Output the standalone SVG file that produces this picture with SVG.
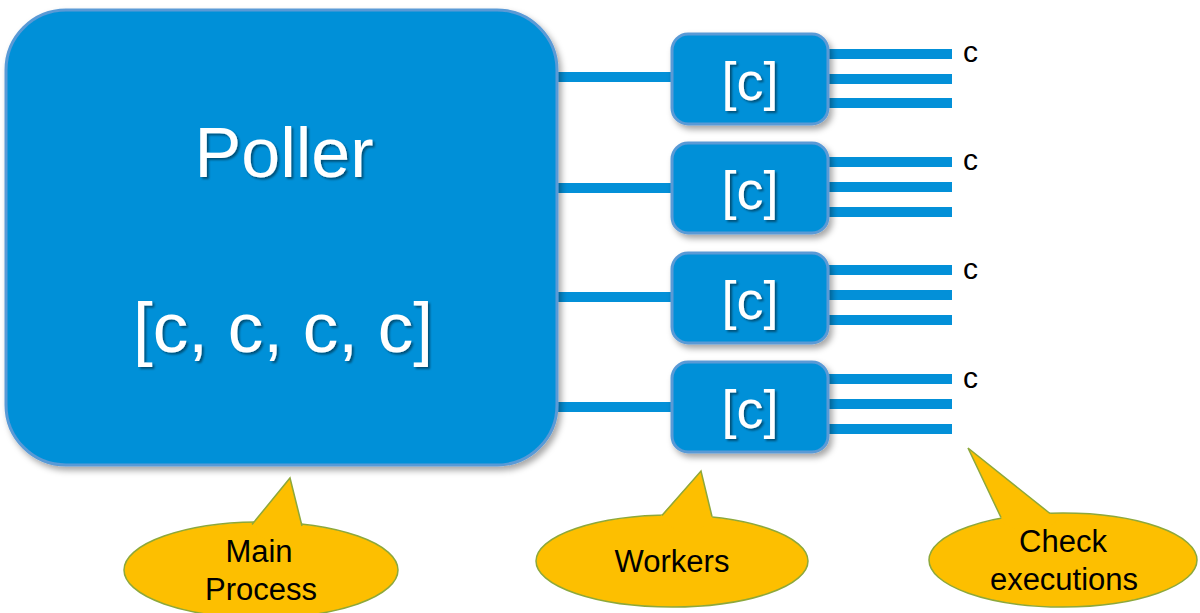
<svg xmlns="http://www.w3.org/2000/svg" width="1200" height="613" viewBox="0 0 1200 613">
<defs>
<filter id="sh" x="-10%" y="-10%" width="125%" height="130%"><feDropShadow dx="3" dy="4" stdDeviation="3" flood-color="#000" flood-opacity="0.35"/></filter>
<filter id="tsh" x="-10%" y="-10%" width="120%" height="130%"><feDropShadow dx="2" dy="2" stdDeviation="1.2" flood-color="#000" flood-opacity="0.45"/></filter>
</defs>
<style>
.box{fill:#0390d8;stroke:#5a9ad6;stroke-width:3}
.wt{fill:#fff;font-family:"Liberation Sans",Arial,sans-serif;text-anchor:middle}
.ln{stroke:#0390d8;stroke-width:10}
.bub{fill:#fdbf00;stroke:#8da83b;stroke-width:1.5}
.tail{fill:#fdbf00;stroke:none}
.tedge{fill:none;stroke:#8da83b;stroke-width:1.5}
.bt{fill:#000;font-family:"Liberation Sans",Arial,sans-serif;font-size:31px;text-anchor:middle}
.cl{fill:#000;font-family:"Liberation Sans",Arial,sans-serif;font-size:30px}
</style>
<g id="connectors">
<line class="ln" x1="555" y1="77" x2="674" y2="77"/>
<line class="ln" x1="555" y1="188" x2="674" y2="188"/>
<line class="ln" x1="555" y1="297" x2="674" y2="297"/>
<line class="ln" x1="555" y1="407" x2="674" y2="407"/>
<line class="ln" x1="826" y1="54" x2="952" y2="54"/>
<line class="ln" x1="826" y1="79" x2="952" y2="79"/>
<line class="ln" x1="826" y1="103" x2="952" y2="103"/>
<line class="ln" x1="826" y1="162" x2="952" y2="162"/>
<line class="ln" x1="826" y1="187" x2="952" y2="187"/>
<line class="ln" x1="826" y1="212" x2="952" y2="212"/>
<line class="ln" x1="826" y1="270" x2="952" y2="270"/>
<line class="ln" x1="826" y1="295" x2="952" y2="295"/>
<line class="ln" x1="826" y1="320" x2="952" y2="320"/>
<line class="ln" x1="826" y1="379" x2="952" y2="379"/>
<line class="ln" x1="826" y1="404" x2="952" y2="404"/>
<line class="ln" x1="826" y1="429" x2="952" y2="429"/>
</g>
<g id="main">
<rect class="box" x="6" y="10" width="551" height="455" rx="60" ry="60" filter="url(#sh)"/>
<g filter="url(#tsh)">
<text class="wt" x="284" y="177" font-size="70">Poller</text>
<text class="wt" x="283" y="352" font-size="71">[c, c, c, c]</text>
</g>
</g>
<g id="worker1">
<rect class="box" x="672" y="34" width="156" height="90" rx="16" filter="url(#sh)"/>
<text class="wt" x="750" y="100" font-size="54" filter="url(#tsh)">[c]</text>
</g>
<g id="worker2">
<rect class="box" x="672" y="143" width="156" height="90" rx="16" filter="url(#sh)"/>
<text class="wt" x="750" y="209" font-size="54" filter="url(#tsh)">[c]</text>
</g>
<g id="worker3">
<rect class="box" x="672" y="253" width="156" height="90" rx="16" filter="url(#sh)"/>
<text class="wt" x="750" y="319" font-size="54" filter="url(#tsh)">[c]</text>
</g>
<g id="worker4">
<rect class="box" x="672" y="362" width="156" height="90" rx="16" filter="url(#sh)"/>
<text class="wt" x="750" y="428" font-size="54" filter="url(#tsh)">[c]</text>
</g>
<g id="checks">
<text class="cl" x="963" y="62">c</text>
<text class="cl" x="963" y="170">c</text>
<text class="cl" x="963" y="279">c</text>
<text class="cl" x="963" y="388">c</text>
</g>
<g id="callout-main">
<ellipse class="bub" cx="261" cy="570" rx="137" ry="48"/>
<polygon class="tail" points="290,478 248.2,529.2 275,545 303.2,530.8"/>
<polyline class="tedge" points="252,524.5 290,478 302,526"/>
<text class="bt" x="259" y="562">Main</text>
<text class="bt" x="261" y="600">Process</text>
</g>
<g id="callout-workers">
<ellipse class="bub" cx="672" cy="561" rx="136" ry="46"/>
<polygon class="tail" points="701,471 657.1,519.9 688,535 713.1,521.1"/>
<polyline class="tedge" points="662,515.5 701,471 712,516.5"/>
<text class="bt" x="672" y="572">Workers</text>
</g>
<g id="callout-checks">
<ellipse class="bub" cx="1063" cy="560" rx="134" ry="47"/>
<polygon class="tail" points="968,448 1004.3,524.5 1035,537 1058.2,520"/>
<polyline class="tedge" points="1001,517.5 968,448 1050,513.5"/>
<text class="bt" x="1063" y="552">Check</text>
<text class="bt" x="1064" y="590">executions</text>
</g>
</svg>
